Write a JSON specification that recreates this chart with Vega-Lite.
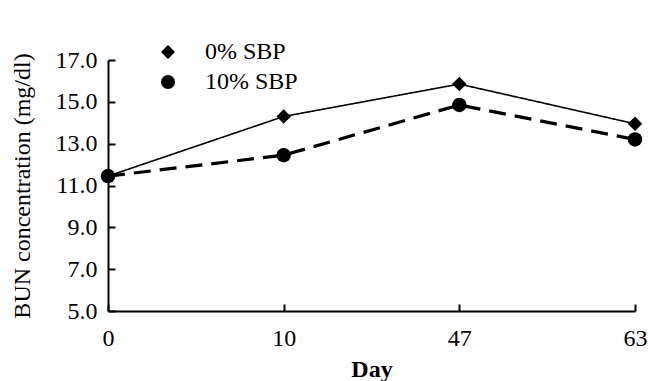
{
  "$schema": "https://vega.github.io/schema/vega-lite/v6.json",
  "width": 527,
  "height": 251,
  "padding": {"left": 9, "top": 40, "right": 5, "bottom": 5},
  "background": "white",
  "config": {
    "view": {"stroke": null},
    "font": "Liberation Serif",
    "legend": {
      "title": null, "orient": "none", "legendX": 48, "legendY": -20,
      "padding": 0, "rowPadding": 4, "symbolSize": 196, "labelOffset": 25,
      "labelFont": "Liberation Serif", "labelFontSize": 24, "labelColor": "black",
      "symbolStrokeColor": "black", "symbolFillColor": "black"
    },
    "axis": {"grid": false, "domainColor": "black", "tickColor": "black", "labelColor": "black", "titleColor": "black", "labelFont": "Liberation Serif", "titleFont": "Liberation Serif", "labelFontSize": 24, "titleFontSize": 24, "domainWidth": 2, "tickWidth": 2}
  },
  "data": {
    "values": [
      {"day": "0", "series": "0% SBP", "bun": 11.45},
      {"day": "10", "series": "0% SBP", "bun": 14.3},
      {"day": "47", "series": "0% SBP", "bun": 15.85},
      {"day": "63", "series": "0% SBP", "bun": 13.95},
      {"day": "0", "series": "10% SBP", "bun": 11.45},
      {"day": "10", "series": "10% SBP", "bun": 12.45},
      {"day": "47", "series": "10% SBP", "bun": 14.85},
      {"day": "63", "series": "10% SBP", "bun": 13.2}
    ]
  },
  "encoding": {
    "x": {
      "field": "day", "type": "ordinal", "sort": ["0", "10", "47", "63"],
      "scale": {"type": "point", "padding": 0},
      "axis": {"title": "Day", "titleFontWeight": "bold", "labelAngle": 0, "tickSize": -7, "labelPadding": 22, "titlePadding": 7}
    },
    "y": {
      "field": "bun", "type": "quantitative",
      "scale": {"domain": [5, 17], "nice": false, "zero": false},
      "axis": {"title": "BUN concentration (mg/dl)", "titleFontWeight": "normal", "values": [5, 7, 9, 11, 13, 15, 17], "format": ".1f", "tickSize": -7, "labelPadding": 18, "titlePadding": 21}
    }
  },
  "layer": [
    {
      "mark": {"type": "line", "color": "black"},
      "encoding": {
        "strokeDash": {
          "field": "series", "type": "nominal",
          "scale": {"domain": ["0% SBP", "10% SBP"], "range": [[1, 0], [17, 9]]},
          "legend": {"title": null, "orient": "none", "legendX": 48, "legendY": -20}
        },
        "strokeWidth": {
          "field": "series", "type": "nominal",
          "scale": {"domain": ["0% SBP", "10% SBP"], "range": [1.6, 3.2]},
          "legend": {"title": null, "orient": "none", "legendX": 48, "legendY": -20}
        }
      }
    },
    {
      "mark": {"type": "point", "filled": true, "color": "black", "opacity": 1, "size": 210},
      "encoding": {
        "shape": {
          "field": "series", "type": "nominal",
          "scale": {"domain": ["0% SBP", "10% SBP"], "range": ["diamond", "circle"]},
          "legend": {"title": null, "orient": "none", "legendX": 48, "legendY": -20}
        }
      }
    }
  ]
}
